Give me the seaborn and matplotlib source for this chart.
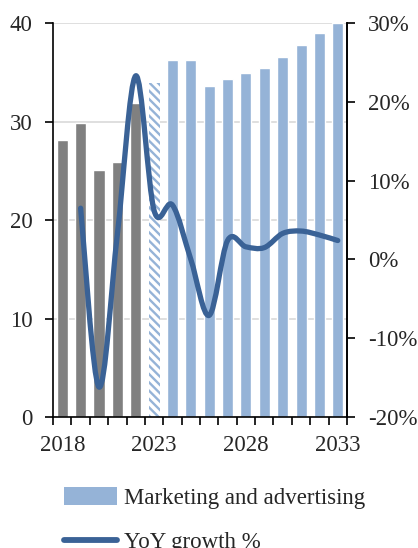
import numpy as np
import matplotlib
matplotlib.use("Agg")
import matplotlib.pyplot as plt
import seaborn as sns
from matplotlib.path import Path
from matplotlib.patches import PathPatch, Patch
from matplotlib.lines import Line2D
from matplotlib.ticker import FuncFormatter, FixedLocator

# data
years = [str(y) for y in range(2018, 2034)]
spend = [28.1, 29.9, 25.1, 25.9, 31.9, 33.9, 36.2, 36.2, 33.6, 34.3,
         34.9, 35.4, 36.6, 37.8, 39.0, 40.0]
growth_years = years[1:]
growth = [6.5, -16.2, 3.2, 23.3, 6.2, 6.9, 0.0, -7.1, 2.4, 1.6,
          1.5, 3.3, 3.6, 3.1, 2.4]
tick_labels = ["2018", "2023", "2028", "2033"]

GREY = "#808080"
LIGHT = "#95b3d7"
DARK = "#3a6296"
FS = 16.5

sns.set_theme(style="white")
plt.rcParams["font.family"] = ["Liberation Serif", "DejaVu Serif"]
plt.rcParams["font.size"] = FS
plt.rcParams["axes.unicode_minus"] = False
plt.rcParams["hatch.linewidth"] = 1.7

fig = plt.figure(figsize=(4.18, 5.48), dpi=100)
ax = fig.add_axes([0.127, 0.239, 0.703, 0.719])

colors = [GREY] * 5 + ["white"] + [LIGHT] * 10
sns.barplot(x=years, y=spend, hue=years, palette=colors, legend=False,
            width=0.6, saturation=1, ax=ax)
# 2023 is the hatched estimate bar
est = ax.patches[5]
est.set_facecolor("white")
est.set_edgecolor(LIGHT)
est.set_hatch("\\\\\\\\")
est.set_linewidth(0)

ax.set_ylim(0, 40)
ax.set_xlim(-0.5, 15.5)
ax.set_yticks([0, 10, 20, 30, 40])
ax.yaxis.grid(True, color="#d9d9d9", linewidth=1.2)
ax.set_axisbelow(True)
ax.set_xlabel("")
ax.set_ylabel("")

ax.set_xticks([0, 5, 10, 15])
ax.set_xticklabels(tick_labels)
ax.tick_params(axis="x", which="major", length=0, pad=13, labelsize=FS)
ax.xaxis.set_minor_locator(FixedLocator(np.arange(-0.5, 16, 1)))
ax.tick_params(axis="x", which="minor", bottom=True, length=6, width=1.2, color="black", direction="out")
ax.tick_params(axis="y", left=True, length=6, width=1.2, color="black", direction="out", labelsize=FS, pad=9)

ax.spines["top"].set_visible(False)
for s in ["left", "bottom", "right"]:
    ax.spines[s].set_color("black")
    ax.spines[s].set_linewidth(1.2)

ax2 = ax.twinx()
ax2.set_ylim(-20, 30)
ax2.set_yticks([-20, -10, 0, 10, 20, 30])
ax2.yaxis.set_major_formatter(FuncFormatter(lambda v, p: f"{v:.0f}%".replace("\u2212", "-")))
ax2.tick_params(axis="y", right=True, length=6, width=1.2, color="black", direction="out", labelsize=FS, pad=9)
ax2.grid(False)
for s in ["top", "left", "bottom"]:
    ax2.spines[s].set_visible(False)
ax2.spines["right"].set_color("black")
ax2.spines["right"].set_linewidth(1.2)

# smoothed growth line (bezier through the points, like a spreadsheet "smooth line")
gx = np.array([years.index(y) for y in growth_years], dtype=float)
gy = np.array(growth, dtype=float)
pts = np.column_stack([gx, gy])
verts = [pts[0]]
codes = [Path.MOVETO]
n = len(pts)
for i in range(n - 1):
    p0 = pts[max(i - 1, 0)]
    p1 = pts[i]
    p2 = pts[i + 1]
    p3 = pts[min(i + 2, n - 1)]
    verts += [p1 + (p2 - p0) / 6, p2 - (p3 - p1) / 6, p2]
    codes += [Path.CURVE4] * 3
ax2.add_patch(PathPatch(Path(verts, codes), facecolor="none", edgecolor=DARK,
                        linewidth=3.8, capstyle="round", joinstyle="round"))

handles = [Patch(facecolor=LIGHT, edgecolor="none"),
           Line2D([], [], color=DARK, linewidth=4.2, solid_capstyle="round")]
fig.legend(handles, ["Marketing and advertising", "YoY growth %"],
           loc="upper left", bbox_to_anchor=(0.153, 0.111), frameon=False,
           fontsize=FS, handlelength=2.3, handleheight=0.85, handletextpad=0.3,
           labelspacing=0.95, borderpad=0, borderaxespad=0)

fig.savefig("out.png", dpi=100)
